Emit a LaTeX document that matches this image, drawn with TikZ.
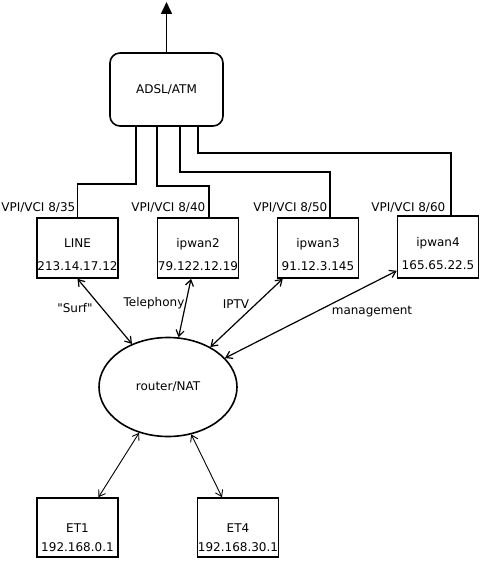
\documentclass[tikz,border=0pt]{standalone}
\usepackage{fontspec}
\setmainfont{DejaVu Sans}[Ligatures=TeXOff]
\usetikzlibrary{arrows.meta}
\usetikzlibrary{shapes.geometric}

\tikzset{
  box/.style={draw, line width=1.6pt, minimum width=81pt, minimum height=60pt,
    inner sep=0pt, align=center, text height=45pt, text depth=0pt},
  etbox/.style={box, minimum height=59pt, text height=48pt, text depth=0pt},
  vc/.style={line width=1.6pt},
  link/.style={line width=1.2pt, {Straight Barb[length=6pt,width=8pt]}-{Straight Barb[length=6pt,width=8pt]}},
  tag/.style={inner sep=0pt}
}

\begin{document}
\begin{tikzpicture}[x=1pt, y=-1pt, font=\fontsize{12}{14}\selectfont]
\useasboundingbox (0,0) rectangle (480,561);

\node[draw, line width=1.6pt, rounded corners=10pt, minimum width=113pt,
  minimum height=73pt] (adsl) at (166.5,89.5) {ADSL/ATM};

\node[box] (line) at (77.5,248) {LINE\\[9pt]213.14.17.12};
\node[box] (ipwan2) at (198,248) {ipwan2\\[9pt]79.122.12.19};
\node[box] (ipwan3) at (318,248) {ipwan3\\[9pt]91.12.3.145};
\node[box, minimum height=62pt] (ipwan4) at (438,247) {ipwan4\\[9pt]165.65.22.5};

\node[draw, ellipse, line width=1.6pt, minimum width=138pt, minimum height=99pt]
  (router) at (168,387) {router/NAT};

\node[etbox] (et1) at (77.5,527.5) {ET1\\[5pt]192.168.0.1};
\node[etbox] (et4) at (238,527.5) {ET4\\[5pt]192.168.30.1};

% uplink
\coordinate (up) at (166.5,2);
\draw[vc, -{Triangle[length=12pt,width=11pt]}] (adsl.north) -- (up);

% virtual circuits
\draw[vc] ([xshift=-30.5pt]adsl.south) |- (line.north |- 0,184) -- (line.north);
\draw[vc] ([xshift=-9.5pt]adsl.south) |- ([xshift=11pt]ipwan2.north |- 0,186) -- ([xshift=11pt]ipwan2.north);
\draw[vc] ([xshift=13.5pt]adsl.south) |- ([xshift=12pt]ipwan3.north |- 0,172) -- ([xshift=12pt]ipwan3.north);
\draw[vc] ([xshift=31.5pt]adsl.south) |- ([xshift=13pt]ipwan4.north |- 0,153) -- ([xshift=13pt]ipwan4.north);

\node[tag, anchor=east] (vc1) at (75.5,208) {VPI/VCI 8/35};
\node[tag, anchor=east] (vc2) at (205.5,208) {VPI/VCI 8/40};
\node[tag, anchor=east] (vc3) at (327.5,208) {VPI/VCI 8/50};
\node[tag, anchor=east] (vc4) at (445.5,208) {VPI/VCI 8/60};

% links to the router
\draw[link] (line.south) -- (router);
\draw[link] ([xshift=-7pt]ipwan2.south) -- (router);
\draw[link] ([xshift=6pt]ipwan3.south west) -- (router);
\draw[link] ([yshift=8pt]ipwan4.south west) -- (router);
\draw[link, line width=0.9pt] ([xshift=21pt]et1.north) -- (router);
\draw[link, line width=0.9pt] ([xshift=-16pt]et4.north) -- (router);

\node[tag] (surf) at (75,308) {"Surf"};
\node[tag] (tel) at (154,303) {Telephony};
\node[tag] (iptv) at (236,304) {IPTV};
\node[tag] (mgmt) at (372,312) {management};
\end{tikzpicture}
\end{document}
